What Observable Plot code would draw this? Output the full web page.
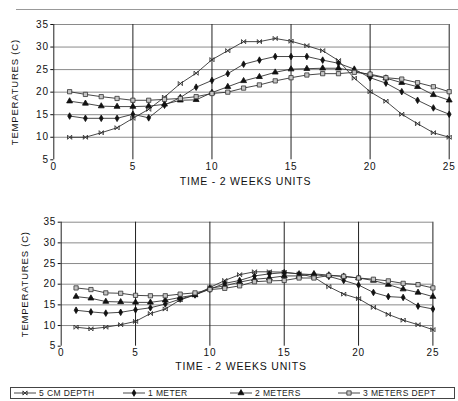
<!DOCTYPE html>
<html>
<head>
<meta charset="utf-8">
<script src="https://cdn.jsdelivr.net/npm/d3@7"></script>
<script src="https://cdn.jsdelivr.net/npm/@observablehq/plot@0.6"></script>
<style>
  html, body { margin: 0; padding: 0; background: #fff; }
  body { width: 458px; height: 401px; position: relative; overflow: hidden; font-family: "Liberation Sans", Arial, sans-serif; }
  #rule { position: absolute; left: 16px; top: 9px; width: 442px; height: 0; border-top: 1px solid #999; }
  #top { position: absolute; left: 0; top: 0; }
  #bottom { position: absolute; left: 0; top: 195px; }
  #legend { position: absolute; left: 10px; top: 387px; width: 445px; height: 12px; border: 1px solid #444; box-sizing: border-box; }
  #legend .item { position: absolute; top: 0; height: 10px; display: flex; align-items: center; font-size: 8.5px; letter-spacing: 0.4px; color: #222; white-space: nowrap; }
  #legend svg { margin-right: 3px; }
</style>
</head>
<body>
<div id="rule"></div>
<div id="top"></div>
<div id="bottom"></div>
<div id="legend"></div>
<script>
// ---- data ----
const timeUnits = [1,2,3,4,5,6,7,8,9,10,11,12,13,14,15,16,17,18,19,20,21,22,23,24,25];
const seriesNames = ["5 CM DEPTH", "1 METER", "2 METERS", "3 METERS DEPT"];

const top5cm = [10,10,11,12.1,14.2,16.2,18.9,21.9,24.2,27.2,29.2,31.2,31.2,31.9,31.3,30.3,29.2,27,23.1,20.1,18,15.1,13,11,10];
const top1m  = [14.7,14.2,14.2,14.2,15.1,14.3,17.1,18.8,21.1,22.6,24.1,26.2,27.1,27.9,27.9,27.9,27.1,26.4,25.1,23.2,22,20.1,18.2,16.5,15.1];
const top2m  = [18,17.5,16.9,16.8,16.8,16.9,17.3,18.2,18.3,19.9,21.2,22.5,23.4,24.4,25.1,25.2,25.3,25.3,24.7,23.8,23.1,22.1,21.2,19.4,18.2];
const top3m  = [20.1,19.5,19,18.6,18.2,18.2,18.4,18.6,19,19.7,20,20.9,21.6,22.5,23.2,23.8,24.1,24.1,24.4,24,23.2,22.9,22.1,21.2,20.1];

const bot5cm = [9.6,9.2,9.6,10.2,11,12.9,14,16.2,17.4,19.2,20.9,22.3,23,23,22.9,22.5,21.7,19.4,17.6,16.5,14.4,12.7,11.3,10.2,9];
const bot1m  = [13.7,13.3,13,13.2,13.8,14.3,15.2,16.4,17.4,18.8,20.2,20.9,22,22.5,22.8,22.5,22.3,21.9,20.9,19.8,18,17,16.8,14.7,14];
const bot2m  = [17,16.6,15.8,15.7,15.6,15.6,16.1,16.8,17.4,19,19.6,20.5,21.2,21.5,22,22,22.5,22.2,21.9,21.5,20.9,19.9,18.8,18,17];
const bot3m  = [19.1,18.7,17.9,17.8,17.3,17.2,17.2,17.6,17.9,18.7,19,19.6,20.6,20.8,20.9,21.5,21.5,22.1,21.9,21.5,21.2,20.8,20.2,19.9,19.1];

const xTicks = [0,5,10,15,20,25];
const yTicks = [5,10,15,20,25,30,35];
const xTitle = "TIME - 2 WEEKS UNITS";
const yTitle = "TEMPERATURES (C)";

// ---- symbols ----
const asterisk = {
  draw(ctx, size) {
    const r = Math.sqrt(size / Math.PI);
    ctx.moveTo(-r, -r); ctx.lineTo(r, r);
    ctx.moveTo(-r, r); ctx.lineTo(r, -r);
    ctx.moveTo(-r, -r); ctx.lineTo(-r, r);
    ctx.moveTo(r, -r); ctx.lineTo(r, r);
  }
};
const styles = [
  {symbol: asterisk, fill: "none", stroke: "#222", r: 2.1},
  {symbol: "diamond", fill: "#111", stroke: "#111", r: 2.0},
  {symbol: "triangle", fill: "#111", stroke: "#111", r: 2.2},
  {symbol: "square", fill: "#c4c4c4", stroke: "#333", r: 2.4}
];

function rows(arrs) {
  const out = [];
  arrs.forEach((arr, s) => arr.forEach((v, i) => out.push({t: timeUnits[i], v, s})));
  return out;
}

function panel({width, height, ml, mr, mt, mb, data, titleDx, titleDy, yDx}) {
  const marks = [
    Plot.ruleY(yTicks.slice(1), {x1: 0, x2: 25, stroke: "#8a8a8a", strokeWidth: 1}),
    Plot.ruleX(xTicks.slice(1), {y1: 5, y2: 35, stroke: "#222", strokeWidth: 1}),
    Plot.ruleX([0], {y1: 5, y2: 35, stroke: "#222", strokeWidth: 1}),
    Plot.axisY({ticks: yTicks, tickSize: 3, tickPadding: 2, label: null, fontSize: 10}),
    Plot.axisX({ticks: xTicks, tickSize: 0, tickPadding: 3, label: null, fontSize: 10}),
    Plot.text([xTitle], {frameAnchor: "bottom", dy: titleDy, dx: titleDx, fontSize: 10.5, fill: "#111"}),
    Plot.text([yTitle], {frameAnchor: "left", textAnchor: "middle", dx: yDx, rotate: -90, fontSize: 9.5, fill: "#111", style: {letterSpacing: "0px"}})
  ];
  seriesNames.forEach((name, s) => {
    const d = data.filter(r => r.s === s);
    marks.push(Plot.line(d, {x: "t", y: "v", stroke: "#333", strokeWidth: 0.9}));
    marks.push(Plot.dot(d, {x: "t", y: "v", symbol: () => styles[s].symbol, r: styles[s].r, fill: styles[s].fill, stroke: styles[s].stroke, strokeWidth: 0.8}));
  });
  return Plot.plot({
    width, height,
    marginLeft: ml, marginRight: mr, marginTop: mt, marginBottom: mb,
    x: {domain: [0, 25]},
    y: {domain: [5, 35]},
    symbol: {type: "identity"},
    style: {fontFamily: "Liberation Sans, Arial, sans-serif", fontSize: "10px", color: "#111", background: "transparent", letterSpacing: "0.8px"},
    marks
  });
}

document.getElementById("top").append(panel({
  width: 458, height: 195, ml: 53.3, mr: 9.3, mt: 24, mb: 35.7,
  data: rows([top5cm, top1m, top2m, top3m]), titleDx: -6, titleDy: 25, yDx: -39
}));
document.getElementById("bottom").append(panel({
  width: 458, height: 185, ml: 60.7, mr: 25.6, mt: 26.7, mb: 34.3,
  data: rows([bot5cm, bot1m, bot2m, bot3m]), titleDx: -6, titleDy: 24, yDx: -36
}));

// ---- legend ----
const legend = document.getElementById("legend");
const legendX = [3, 112, 219, 327];
seriesNames.forEach((name, s) => {
  const item = document.createElement("div");
  item.className = "item";
  item.style.left = legendX[s] + "px";
  const st = styles[s];
  const sym = typeof st.symbol === "string" ? d3.symbol(d3["symbol" + st.symbol[0].toUpperCase() + st.symbol.slice(1)], Math.PI * st.r * st.r)() : d3.symbol(st.symbol, Math.PI * st.r * st.r)();
  item.innerHTML = `<svg width="22" height="10"><line x1="0" x2="22" y1="5" y2="5" stroke="#333" stroke-width="0.9"/><path transform="translate(11,5)" d="${sym}" fill="${st.fill}" stroke="${st.stroke}" stroke-width="0.8"/></svg><span>${name}</span>`;
  legend.append(item);
});
</script>
</body>
</html>
